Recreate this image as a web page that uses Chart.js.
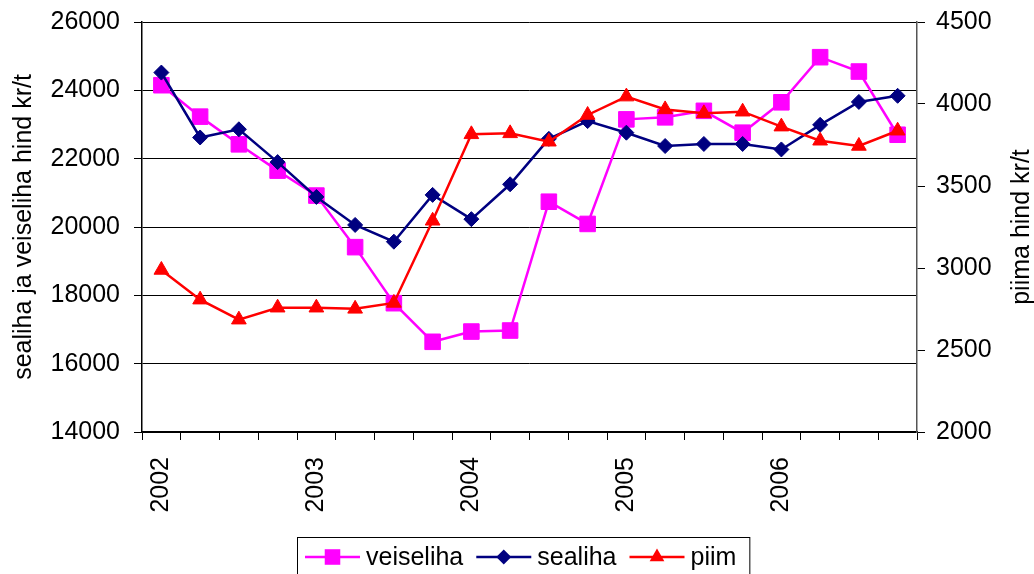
<!DOCTYPE html>
<html>
<head>
<meta charset="utf-8">
<script src="https://cdn.jsdelivr.net/npm/chart.js@4/dist/chart.umd.min.js"></script>
<style>
    html, body { margin: 0; background: #fff; }
    #wrap { position: relative; width: 1034px; height: 574px; }
</style>
</head>
<body>
<div id="wrap"><canvas id="priceChart"></canvas></div>
<script>
// kvartalid 2002 I ... 2006 IV
const quarters = [
    '2002 I', '2002 II', '2002 III', '2002 IV',
    '2003 I', '2003 II', '2003 III', '2003 IV',
    '2004 I', '2004 II', '2004 III', '2004 IV',
    '2005 I', '2005 II', '2005 III', '2005 IV',
    '2006 I', '2006 II', '2006 III', '2006 IV'
];
const yearTicks = [
    '2002', '', '', '', '2003', '', '', '', '2004', '', '', '',
    '2005', '', '', '', '2006', '', '', ''
];

const veiseliha = [24150, 23230, 22420, 21650, 20920, 19410, 17770, 16640, 16940, 16970,
                   20740, 20090, 23150, 23210, 23400, 22760, 23650, 24970, 24550, 22700];
const sealiha = [24520, 22620, 22860, 21900, 20880, 20060, 19570, 20940, 20230, 21250,
                 22580, 23100, 22760, 22370, 22430, 22430, 22270, 22990, 23660, 23840];
const piim = [2988, 2807, 2685, 2758, 2758, 2751, 2787, 3288, 3815, 3821,
              3770, 3933, 4045, 3967, 3943, 3953, 3862, 3776, 3744, 3837];

const leftTicks = { min: 14000, max: 26000, step: 2000 };
const rightTicks = { min: 2000, max: 4500, step: 500 };

const FONT = '"Liberation Sans", Arial, sans-serif';
const FS = 25;

// joonistab markeri (legendi jaoks)
function marker(ctx, style, r, color, x, y) {
    ctx.fillStyle = color;
    ctx.strokeStyle = color;
    ctx.beginPath();
    if (style === 'rect') {
        const s = r * Math.SQRT1_2;
        ctx.rect(x - s, y - s, 2 * s, 2 * s);
    } else if (style === 'rectRot') {
        ctx.moveTo(x, y - r); ctx.lineTo(x + r, y); ctx.lineTo(x, y + r); ctx.lineTo(x - r, y);
        ctx.closePath();
    } else {
        const w = r * Math.sqrt(3) / 2;
        ctx.moveTo(x, y - r); ctx.lineTo(x + w, y + r / 2); ctx.lineTo(x - w, y + r / 2);
        ctx.closePath();
    }
    ctx.fill();
}

const extras = {
    id: 'extras',
    afterDraw(chart) {
        const ctx = chart.ctx;
        const area = chart.chartArea;

        // parem telje pealkiri (loetakse alt üles)
        ctx.save();
        ctx.fillStyle = '#000';
        ctx.font = `${FS}px ${FONT}`;
        ctx.textAlign = 'center';
        ctx.textBaseline = 'middle';
        ctx.translate(chart.width - 12, (area.top + area.bottom) / 2);
        ctx.rotate(-Math.PI / 2);
        ctx.fillText('piima hind kr/t', 0, 0);
        ctx.restore();

        // legend: joon + marker + tekst, raamiga
        ctx.save();
        ctx.font = `${FS}px ${FONT}`;
        const boxX = 297, boxY = 537, boxH = 50;
        let x = boxX + 8;
        const y = boxY + 20;
        chart.data.datasets.forEach(ds => {
            ctx.strokeStyle = ds.borderColor;
            ctx.lineWidth = 2.5;
            ctx.beginPath();
            ctx.moveTo(x, y);
            ctx.lineTo(x + 55, y);
            ctx.stroke();
            marker(ctx, ds.pointStyle, ds.pointRadius, ds.borderColor, x + 27.5, y);
            ctx.fillStyle = '#000';
            ctx.textAlign = 'left';
            ctx.textBaseline = 'middle';
            ctx.fillText(ds.label, x + 61, y + 1);
            x += 61 + ctx.measureText(ds.label).width + 13;
        });
        ctx.strokeStyle = '#000';
        ctx.lineWidth = 1;
        ctx.strokeRect(boxX + 0.5, boxY + 0.5, x - boxX, boxH);
        ctx.restore();
    }
};

const plain = v => String(v);

// telgede laius fikseeritud, et joonisala oleks nagu originaalis
function fixWidth(w) {
    return s => { s.width = w; s.paddingTop = 0; s.paddingBottom = 0; };
}

const ctx = document.getElementById('priceChart').getContext('2d');
new Chart(ctx, {
    type: 'line',
    data: {
        labels: quarters,
        datasets: [
            {
                label: 'veiseliha',
                data: veiseliha,
                yAxisID: 'y',
                borderColor: '#FF00FF',
                backgroundColor: '#FF00FF',
                borderWidth: 2.5,
                pointStyle: 'rect',
                pointRadius: 11,
                pointBorderWidth: 1,
                order: 3
            },
            {
                label: 'sealiha',
                data: sealiha,
                yAxisID: 'y',
                borderColor: '#000080',
                backgroundColor: '#000080',
                borderWidth: 2.5,
                pointStyle: 'rectRot',
                pointRadius: 7.5,
                pointBorderWidth: 1,
                order: 2
            },
            {
                label: 'piim',
                data: piim,
                yAxisID: 'y1',
                borderColor: '#FF0000',
                backgroundColor: '#FF0000',
                borderWidth: 2.5,
                pointStyle: 'triangle',
                pointRadius: 8.5,
                pointBorderWidth: 1,
                order: 1
            }
        ]
    },
    options: {
        responsive: true,
        maintainAspectRatio: false,
        animation: false,
        layout: { padding: { top: 22 } },
        elements: { line: { tension: 0 } },
        plugins: {
            legend: { display: false },
            tooltip: { enabled: false }
        },
        scales: {
            x: {
                offset: true,
                grid: { offset: true, drawOnChartArea: false, color: '#000', tickLength: 8 },
                border: { color: '#000', width: 1.5 },
                ticks: {
                    autoSkip: false,
                    minRotation: 90,
                    maxRotation: 90,
                    padding: 17,
                    color: '#000',
                    font: { family: FONT, size: FS },
                    callback: (v, i) => yearTicks[i]
                },
                afterFit(s) { s.height = 142; s.paddingLeft = 0; s.paddingRight = 0; }
            },
            y: {
                position: 'left',
                min: leftTicks.min,
                max: leftTicks.max,
                ticks: {
                    stepSize: leftTicks.step,
                    padding: 14,
                    color: '#000',
                    font: { family: FONT, size: FS },
                    callback: plain
                },
                grid: { color: '#000', lineWidth: 1, tickLength: 8 },
                border: { color: '#000', width: 1.5 },
                title: {
                    display: true,
                    text: 'sealiha ja veiseliha hind kr/t',
                    color: '#000',
                    font: { family: FONT, size: FS },
                    padding: { top: 9 }
                },
                afterFit: fixWidth(142)
            },
            y1: {
                position: 'right',
                min: rightTicks.min,
                max: rightTicks.max,
                ticks: {
                    stepSize: rightTicks.step,
                    padding: 11,
                    color: '#000',
                    font: { family: FONT, size: FS },
                    callback: plain
                },
                grid: { drawOnChartArea: false, color: '#000', tickLength: 8 },
                border: { color: '#555', width: 1.5 },
                afterFit: fixWidth(117)
            }
        }
    },
    plugins: [extras]
});
</script>
</body>
</html>
